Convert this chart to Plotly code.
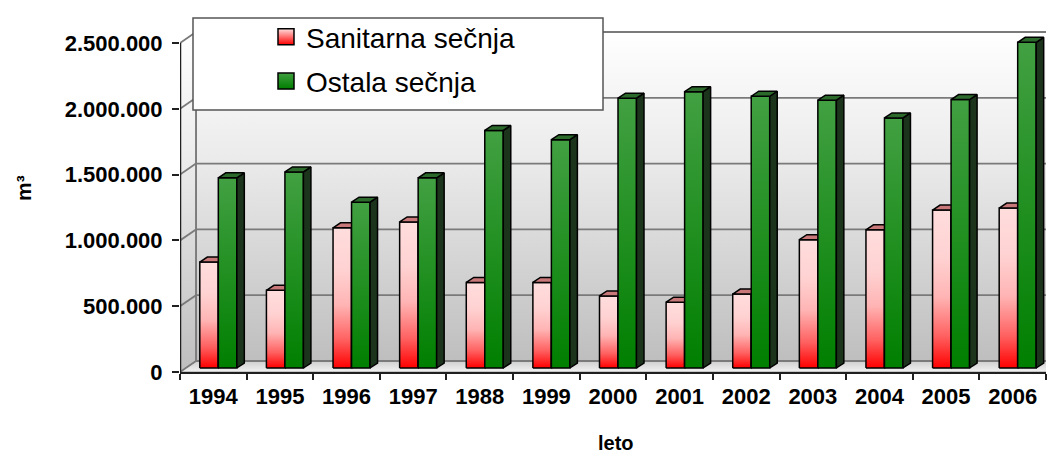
import plotly.graph_objects as go

# ---------------- data ----------------
years = ["1994", "1995", "1996", "1997", "1988", "1999", "2000",
         "2001", "2002", "2003", "2004", "2005", "2006"]
sanitarna = [805000, 590000, 1065000, 1110000, 650000, 650000, 548000,
             500000, 562000, 975000, 1050000, 1200000, 1215000]
ostala = [1445000, 1490000, 1260000, 1445000, 1805000, 1735000, 2050000,
          2100000, 2065000, 2035000, 1900000, 2040000, 2475000]
ytick_vals = [0, 500000, 1000000, 1500000, 2000000, 2500000]
ytick_text = ["0", "500.000", "1.000.000", "1.500.000", "2.000.000", "2.500.000"]
series_names = ["Sanitarna sečnja", "Ostala sečnja"]
x_title = "leto"
y_title = "m³"

# ---------------- geometry / style ----------------
W, H = 1048, 456
ML, MR, MT, MB = 180, 2, 30, 84
plot_w = W - ML - MR
plot_h = H - MT - MB
n = len(years)
X0, X1 = -0.5, n - 0.5
px_x = plot_w / (X1 - X0)
YTOP = ytick_vals[-1]
front_px = 329.0                      # pixels from 0 to YTOP on the front axis
u_y = YTOP / front_px
YMAX = plot_h * u_y


def dx(p):
    return p / px_x


def dy(p):
    return p * u_y


WX, WY = dx(16), dy(11)      # back wall depth
FX, FY = dx(5), dy(4)        # bar front plane offset
BX, BY = dx(7.5), dy(5)      # bar depth
BW = dx(18.5)                # bar width
PAIR_SHIFT = FX

red_scale = [[0, "#FF0000"], [0.2, "#FF6060"], [0.45, "#FFB4B4"],
             [0.7, "#FFD2D2"], [1, "#FFDDDD"]]
green_scale = [[0, "#007F00"], [1, "#42A042"]]
styles = [
    dict(scale=red_scale, side="#8C2020", cap="#C87878", leg_top="#FFE0E0", leg_bot="#FF0000"),
    dict(scale=green_scale, side="#1C341C", cap="#2C6A2C", leg_top="#3F9F3F", leg_bot="#007F00"),
]

traces = []


def poly(xs, ys, line_color="black", width=1.5, fillcolor=None, grad=None, group=None):
    kw = dict(x=xs + [xs[0]], y=ys + [ys[0]], mode="lines", fill="toself",
              line=dict(color=line_color, width=width), hoverinfo="skip",
              showlegend=False)
    if group is not None:
        kw["legendgroup"] = group
    if grad is not None:
        kw["fillgradient"] = dict(type="vertical", colorscale=grad)
        kw["fillcolor"] = grad[-1][1]
    else:
        kw["fillcolor"] = fillcolor
    return go.Scatter(**kw)


wall_scale = [[0, "#BEBEBE"], [0.6, "#EAEAEA"], [1, "#FFFFFF"]]
# back wall
traces.append(poly([X0 + WX, X1 + WX, X1 + WX, X0 + WX],
                   [WY, WY, YTOP + WY, YTOP + WY], line_color="#8A8A8A", width=1.5, grad=wall_scale))
# side wall
traces.append(poly([X0, X0 + WX, X0 + WX, X0],
                   [0, WY, YTOP + WY, YTOP], line_color="#8A8A8A", width=1, grad=wall_scale))
# floor
traces.append(poly([X0, X1, X1 + WX, X0 + WX],
                   [0, 0, WY, WY], line_color="#9A9A9A", width=1,
                   grad=[[0, "#F2F2F2"], [1, "#CFCFCF"]]))

# gridlines on back wall + side-wall diagonals
gx, gy = [], []
for v in ytick_vals:
    gx += [X0 + WX, X1 + WX, None, X0, X0 + WX, None]
    gy += [v + WY, v + WY, None, v, v + WY, None]
gx += [X0 + WX, X0 + WX, None]
gy += [WY, YTOP + WY, None]
traces.append(go.Scatter(x=gx, y=gy, mode="lines", line=dict(color="#7A7A7A", width=1.8),
                         hoverinfo="skip", showlegend=False))

# front y axis line (0 .. YTOP)
traces.append(go.Scatter(x=[X0, X0], y=[0, YTOP], mode="lines",
                         line=dict(color="#202020", width=2.5), hoverinfo="skip", showlegend=False))

# bars
for i in range(n):
    for s, vals in enumerate([sanitarna, ostala]):
        st = styles[s]
        v = vals[i]
        left = i + PAIR_SHIFT - BW + s * BW
        right = left + BW
        base = FY
        top = FY + v
        grp = series_names[s]
        # front face
        traces.append(poly([left, right, right, left], [base, base, top, top],
                           grad=st["scale"], group=grp))
        # side face
        traces.append(poly([right, right + BX, right + BX, right],
                           [base, base + BY, top + BY, top], fillcolor=st["side"], group=grp))
        # top cap
        traces.append(poly([left, right, right + BX, left + BX],
                           [top, top, top + BY, top + BY], fillcolor=st["cap"], group=grp))

# legend entries
for s, name in enumerate(series_names):
    st = styles[s]
    traces.append(go.Scatter(
        x=[None], y=[None], mode="markers", name=name, legendgroup=name,
        marker=dict(symbol="square", size=16, color=st["leg_top"],
                    gradient=dict(type="vertical", color=st["leg_bot"]),
                    line=dict(color="black", width=1.5))))

fig = go.Figure(traces)

font_family = "Liberation Sans, Arial, sans-serif"


def paper_x(p):
    return (p - ML) / plot_w


def paper_y(p):
    return (H - MB - p) / plot_h


fig.update_layout(
    width=W, height=H,
    margin=dict(l=ML, r=MR, t=MT, b=MB, pad=0, autoexpand=False),
    paper_bgcolor="white", plot_bgcolor="white",
    font=dict(family=font_family, color="black"),
    showlegend=True,
    legend=dict(x=paper_x(266), y=paper_y(12), xanchor="left", yanchor="top",
                bgcolor="rgba(0,0,0,0)", borderwidth=0,
                font=dict(size=28, family=font_family, color="black"),
                tracegroupgap=5, itemsizing="trace", traceorder="grouped"),
    xaxis=dict(range=[X0, X1], tickmode="array", tickvals=list(range(n)), ticktext=years,
               ticks="", showgrid=False, zeroline=False, automargin=False,
               showline=True, linecolor="#202020", linewidth=1.5,
               tickfont=dict(size=22, family=font_family, weight="bold"),
               ticklabelstandoff=4,
               minor=dict(tickmode="array", tickvals=[k - 0.5 for k in range(n + 1)],
                          ticks="outside", ticklen=6, tickcolor="#202020", tickwidth=1.5)),
    yaxis=dict(range=[0, YMAX], tickmode="array", tickvals=ytick_vals, ticktext=ytick_text,
               ticks="outside", ticklen=7, tickcolor="#202020", tickwidth=1.5,
               showgrid=False, zeroline=False, showline=False, automargin=False,
               tickfont=dict(size=22, family=font_family, weight="bold"),
               ticklabelstandoff=5),
    shapes=[dict(type="rect", xref="paper", yref="paper",
                 x0=paper_x(193), x1=paper_x(603), y0=paper_y(110), y1=paper_y(18),
                 fillcolor="white", line=dict(color="#555555", width=1.5), layer="above")],
    annotations=[
        dict(text=y_title, xref="paper", yref="paper",
             x=paper_x(23), y=paper_y(188), xanchor="center", yanchor="middle",
             textangle=-90, showarrow=False,
             font=dict(size=21, family=font_family, weight="bold", color="black")),
        dict(text=x_title, xref="paper", yref="paper",
             x=paper_x(616), y=paper_y(443), xanchor="center", yanchor="middle",
             showarrow=False,
             font=dict(size=20, family=font_family, weight="bold", color="black")),
    ],
)

fig.write_html("out.html", post_script="document.body.style.margin='0';",
               config={"displayModeBar": False})
